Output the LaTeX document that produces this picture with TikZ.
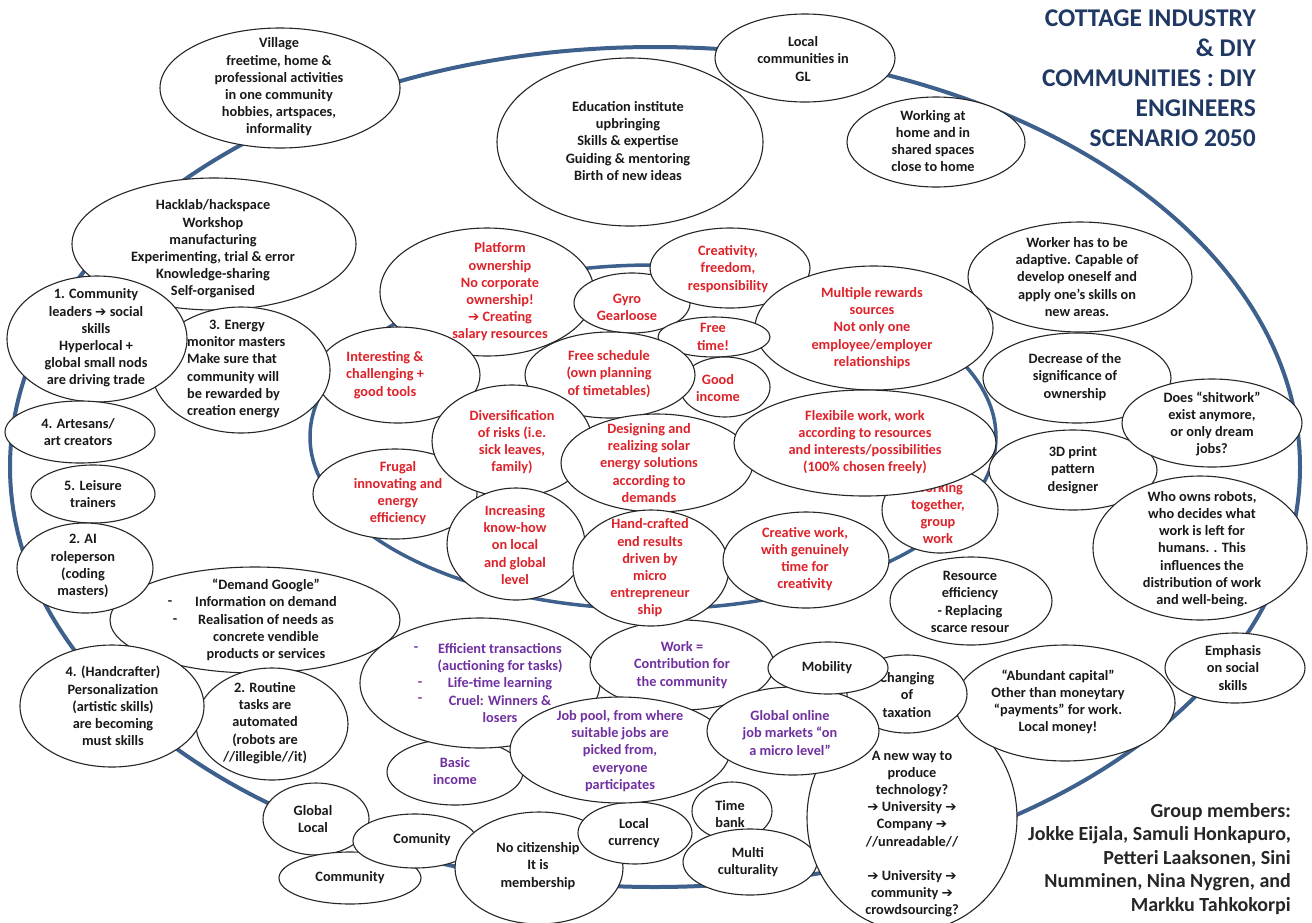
\documentclass[tikz,border=0pt]{standalone}
\usepackage{fontspec}
\setmainfont{Carlito}
\newfontfamily\dejavu{DejaVu Sans}
\usetikzlibrary{shapes.geometric}
\definecolor{bluel}{RGB}{62,96,140}
\definecolor{redt}{RGB}{222,34,42}
\definecolor{purt}{RGB}{112,48,160}
\definecolor{navy}{RGB}{31,56,100}
\newcommand\arr{{\dejavu\bfseries\fontsize{13.5}{13.5}\selectfont ➔}}
\newcommand\bub[9]{%
  \node[bubble, minimum width={2*#4pt}, minimum height={2*#5pt}] (#1) at (#2,#3) {};
  \node[#8] (#1-t) at (#6,#7) {#9};}
\begin{document}
\begin{tikzpicture}[x=1pt,y=-1pt,
  bubble/.style={ellipse, draw=black!85, line width=1.1pt, fill=white, inner sep=0pt, outer sep=0pt},
  tb/.style={align=center, inner sep=0pt, font=\bfseries\fontsize{14.3}{17.2}\selectfont, text=black!90},
  tr/.style={tb, text=redt},
  tp/.style={tb, text=purt},
  ring/.style={ellipse, draw=bluel, inner sep=0pt, fill=none}]
\fill[white] (0,0) rectangle (1312,922);
\useasboundingbox (0,0) rectangle (1312,922);
% blue rings
\node[ring, line width=4pt, minimum width=1290pt, minimum height=840pt] (outer) at (655,467) {};
\node[ring, line width=3.5pt, minimum width=686pt, minimum height=344pt] (inner) at (653,437) {};
% outer bubbles
\bub{village}{280}{88}{120}{60}{279}{87}{tb}{Village\\freetime, home \&\\professional activities\\in one community\\hobbies,  artspaces,\\informality}
\bub{localgl}{805}{58}{90}{44}{803}{59}{tb}{Local\\communities in\\GL}
\bub{edu}{630}{142}{133}{84}{628}{141}{tb}{Education institute\\upbringing\\Skills \& expertise\\Guiding \& mentoring\\Birth of new ideas}
\bub{home}{936}{142}{89}{45}{933}{141}{tb}{Working at\\home and in\\shared spaces\\close to home}
\bub{worker}{1080}{277}{112}{55}{1077}{277}{tb}{Worker has to be\\adaptive. Capable of\\develop oneself and\\apply one’s skills on\\new areas.}
\bub{decrease}{1077}{378}{94}{45}{1075}{377}{tb}{Decrease of the\\significance of\\ownership}
\bub{print}{1073}{470}{84}{40}{1073}{470}{tb}{3D print\\pattern\\designer}
\bub{shit}{1212}{423}{90}{44}{1212}{424}{tb}{Does “shitwork”\\exist anymore,\\or only dream\\jobs?}
\bub{robots}{1200}{548}{107}{72}{1202}{549}{tb}{Who owns robots,\\who decides what\\work is left for\\humans. . This\\influences the\\distribution of work\\and well-being.}
\bub{emph}{1235}{668}{70}{35}{1233}{668}{tb}{Emphasis\\on social\\skills}
\bub{hack}{214}{244}{142}{66}{213}{249}{tb}{Hacklab/hackspace\\Workshop\\manufacturing\\Experimenting, trial \& error\\Knowledge-sharing\\Self-organised}
% inner cluster (top-left)
\bub{platform}{487}{292}{107}{64}{500}{292}{tr}{Platform\\ownership\\No corporate\\ownership!\\\arr{} Creating\\salary resources}
\bub{interest}{398}{375}{82}{48}{385}{375}{tr}{Interesting \&\\challenging +\\good tools}
\node[bubble, minimum width=178pt, minimum height=126pt] (energy) at (241,370) {};
\node[tb, align=left, anchor=west] (energy-t) at (187,369) {\hspace*{22pt}3. Energy\\monitor masters\\Make sure that\\community will\\be rewarded by\\creation energy};
\bub{leaders}{97}{339}{90}{63}{96}{338}{tb}{1. Community\\leaders \arr{} social\\skills\\Hyperlocal +\\global small nods\\are driving trade}
\bub{artesans}{80}{432}{75}{31}{78}{432}{tb}{4. Artesans/\\art creators}
\bub{leisure}{93}{494}{62}{29}{93}{494}{tb}{5. Leisure\\trainers}
\bub{google}{255}{620}{145}{53}{266}{620}{tb}{“Demand Google”\\Information on demand\\Realisation of needs as\\concrete vendible\\products or services}
\node[tb] (google-d1) at (170,603) {-};
\node[tb] (google-d2) at (175,621) {-};
\bub{ai}{85}{568}{68}{45}{83}{566}{tb}{2. AI\\roleperson\\(coding\\masters)}
\bub{routine}{272}{724}{76}{56}{265}{723}{tb}{2. Routine\\tasks are\\automated\\(robots are\\//illegible//it)}
\bub{handcraft}{112}{706}{92}{61}{113}{706}{tb}{4. (Handcrafter)\\Personalization\\(artistic skills)\\are becoming\\must skills}
% bottom cluster
\bub{glocal}{316}{819}{53}{36}{313}{819}{tb}{Global\\Local}
\bub{community}{350}{878}{71}{26}{350}{878}{tb}{Community}
\bub{comunity}{415}{841}{62}{27}{422}{840}{tb}{Comunity}
\bub{citizen}{539}{868}{84}{56}{538}{866}{tb}{No citizenship\\It is\\membership}
\bub{currency}{635}{833}{57}{31}{634}{833}{tb}{Local\\currency}
\bub{timebank}{732}{811}{40}{29}{730}{814}{tb}{Time\\bank}
\bub{multi}{750}{862}{67}{33}{748}{862}{tb}{Multi\\culturality}
\bub{basic}{455}{772}{68}{33}{455}{771}{tp}{Basic\\income}
\bub{efficient}{480}{683}{120}{65}{500}{683}{tp}{Efficient transactions\\(auctioning for tasks)\\Life-time learning\\Cruel: Winners \&\\losers}
\node[tp] (efficient-d1) at (416,649) {-};
\node[tp] (efficient-d2) at (420,684) {-};
\node[tp] (efficient-d3) at (420,700) {-};
\bub{work}{682}{665}{92}{45}{682}{665}{tp}{Work =\\Contribution for\\the community}
\bub{jobpool}{620}{750}{110}{53}{620}{751}{tp}{Job pool, from where\\suitable jobs are\\picked from,\\everyone\\participates}
\bub{newway}{912}{818}{105}{113}{912}{834}{tb}{A new way to\\produce\\technology?\\\arr{} University \arr\\Company \arr\\//unreadable//\\[17.2pt]\arr{} University \arr\\community \arr\\crowdsourcing?}
\bub{abundant}{1065}{703}{110}{58}{1058}{702}{tb}{“Abundant capital”\\Other than moneytary\\“payments” for work.\\Local money!}
\bub{taxation}{907}{694}{60}{39}{907}{695}{tb}{Changing\\of\\taxation}
\bub{online}{793}{731}{86}{44}{790}{733}{tp}{Global online\\job markets “on\\a micro level”}
\bub{mobility}{828}{668}{60}{26}{827}{668}{tb}{Mobility}
\bub{resource}{971}{601}{81}{44}{970}{602}{tb}{Resource\\efficiency\\- Replacing\\scarce resour}
% inner ring bubbles
\bub{gyro}{632}{303}{58}{30}{627}{307}{tr}{Gyro\\Gearloose}
\bub{creativity}{730}{268}{80}{40}{728}{269}{tr}{Creativity,\\freedom,\\responsibility}
\bub{rewards}{874}{328}{119}{62}{872}{328}{tr}{Multiple rewards\\sources\\Not only one\\employee/employer\\relationships}
\bub{freetime}{714}{337}{56}{20}{713}{337}{tr}{Free\\time!}
\bub{income}{725}{387}{45}{30}{718}{388}{tr}{Good\\income}
\bub{schedule}{610}{375}{85}{43}{609}{374}{tr}{Free schedule\\(own planning\\of timetables)}
\bub{frugal}{395}{494}{82}{45}{398}{493}{tr}{Frugal\\innovating and\\energy\\efficiency}
\bub{divers}{512}{441}{80}{56}{512}{442}{tr}{Diversification\\of risks (i.e.\\sick leaves,\\family)}
\bub{solar}{657}{463}{96}{49}{649}{463}{tr}{Designing and\\realizing solar\\energy solutions\\according to\\demands}
\bub{together}{940}{510}{58}{43}{938}{513}{tr}{Working\\together,\\group\\work}
\bub{flexible}{865}{443}{131}{53}{865}{442}{tr}{Flexibile work, work\\according to resources\\and interests/possibilities\\(100\% chosen freely)}
\bub{knowhow}{516}{544}{69}{56}{515}{545}{tr}{Increasing\\know-how\\on local\\and global\\level}
\bub{handcrafted}{651}{568}{78}{58}{650}{568}{tr}{Hand-crafted\\end results\\driven by\\micro\\entrepreneur\\ship}
\bub{creative}{806}{560}{83}{48}{805}{559}{tr}{Creative work,\\with genuinely\\time for\\creativity}
% texts
\node[font=\bfseries\fontsize{25.5}{30}\selectfont, text=navy, align=right, anchor=east, inner sep=0pt] (title) at (1256,78) {COTTAGE INDUSTRY\\\& DIY\\COMMUNITIES : DIY\\ENGINEERS\\SCENARIO 2050};
\node[font=\bfseries\fontsize{20}{23.5}\selectfont, text=black!85, align=right, anchor=east, inner sep=0pt] (group) at (1291,859) {Group members:\\Jokke Eijala, Samuli Honkapuro,\\Petteri Laaksonen, Sini\\Numminen, Nina Nygren, and\\Markku Tahkokorpi};
\end{tikzpicture}
\end{document}
